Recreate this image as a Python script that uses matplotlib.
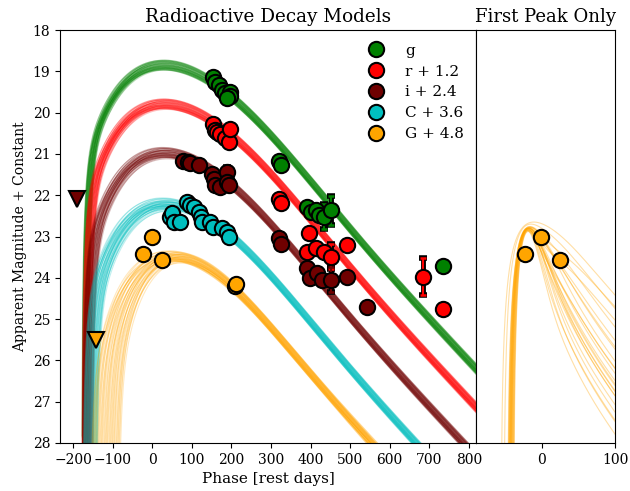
import numpy as np
import matplotlib
matplotlib.use("Agg")
import matplotlib.pyplot as plt
from matplotlib.lines import Line2D

plt.rcParams['font.family'] = ['DejaVu Serif']
plt.rcParams['font.size'] = 10

# ---------------- data ----------------
band_labels = ['g', 'r + 1.2', 'i + 2.4', 'C + 3.6', 'G + 4.8']
band_colors = ['#008000', '#ff0000', '#700000', '#00bfbf', '#ffa500']

g_phase = [153.6, 159.5, 168, 176, 185, 195.7, 197.5, 189, 320, 326, 392, 400, 413, 421, 434, 451, 735]
g_mag = [19.13, 19.25, 19.33, 19.45, 19.53, 19.49, 19.61, 19.65, 21.16, 21.27, 22.28, 22.4, 22.36, 22.48, 22.52, 22.37, 23.71]
g_err = [0, 0, 0, 0, 0, 0, 0, 0, 0, 0, 0, 0, 0, 0, 0.3, 0.35, 0]

r_phase = [153.6, 159.5, 164, 172, 183, 193, 197.5, 320, 326, 396, 392, 413, 434, 451, 491, 685, 735]
r_mag = [20.28, 20.42, 20.46, 20.52, 20.62, 20.72, 20.4, 22.08, 22.2, 22.92, 23.37, 23.29, 23.37, 23.49, 23.2, 23.97, 24.76]
r_err = [0, 0, 0, 0, 0, 0, 0, 0, 0, 0, 0, 0, 0, 0.3, 0, 0.45, 0]

i_phase = [79, 90, 96, 117, 151, 155, 159.5, 172, 189, 189, 193, 320, 326, 392, 398, 417, 430, 451, 491, 542]
i_mag = [21.17, 21.2, 21.23, 21.27, 21.49, 21.61, 21.75, 21.81, 21.43, 21.67, 21.75, 23.04, 23.17, 23.77, 24.01, 23.89, 24.05, 24.05, 23.97, 24.7]
i_err = [0, 0, 0, 0, 0, 0, 0, 0, 0.12, 0, 0, 0, 0, 0, 0, 0, 0, 0.3, 0, 0]

C_phase = [46, 50, 55, 71, 88, 96, 105, 117, 122, 126, 147, 153, 176, 189, 193]
C_mag = [22.52, 22.42, 22.64, 22.66, 22.16, 22.24, 22.28, 22.4, 22.52, 22.66, 22.64, 22.78, 22.8, 22.9, 23.02]
C_err = [0] * 15

G_phase = [-23.6, -1, 24.5, 210, 211]
G_mag = [23.42, 23.02, 23.57, 24.21, 24.15]
G_err = [0, 0, 0, 0, 0]

# upper limits
lim_i_phase, lim_i_mag = [-190.6], [22.08]
lim_G_phase, lim_G_mag = [-142.5], [25.5]

# model draws (radioactive decay fits), per band:
# explosion-time range, diffusion-time range, early-power weight, magnitude at phase 300
model_t0_lo = [-178, -178, -178, -176, -158]
model_t0_hi = [-160, -155, -150, -140, -85]
model_tau_lo = [245, 245, 240, 235, 221]
model_tau_hi = [230, 228, 222, 215, 168]
model_w = [10, 10, 9, 8, 4.6]
model_m300 = [20.55, 21.48, 22.7, 23.95, 25.2]
draw_frac = [0.00, 0.03, 0.05, 0.08, 0.10, 0.13, 0.15, 0.18, 0.21, 0.23, 0.26, 0.28, 0.31, 0.33,
             0.36, 0.38, 0.41, 0.44, 0.46, 0.49, 0.51, 0.54, 0.56, 0.59, 0.62, 0.64, 0.67, 0.69,
             0.72, 0.74, 0.77, 0.79, 0.82, 0.85, 0.87, 0.90, 0.92, 0.95, 0.97, 1.00]
draw_dm = [0.05, -0.08, 0.11, -0.02, 0.07, -0.11, 0.00, 0.09, -0.05, 0.03, -0.09, 0.12, -0.03, 0.06,
           -0.12, 0.02, 0.08, -0.06, 0.10, -0.01, 0.04, -0.10, 0.01, 0.11, -0.07, 0.05, -0.04, 0.09,
           -0.12, 0.03, 0.06, -0.08, 0.00, 0.12, -0.03, 0.07, -0.10, 0.02, -0.05, 0.08]

# first-peak-only model draws (G band)
fp_t0 = [-47, -46.5, -46, -45.5, -45, -44.5, -44, -43.5, -43, -42.5, -42, -41.5,
         -41, -40.5, -40, -39.5, -39, -38.5, -52, -56, -44, -43, -45, -42]
fp_tau = [30, 29, 28, 27.5, 27, 26, 25.5, 25, 24, 23.5, 23, 22,
          21.5, 21, 20, 19.5, 19, 18, 34, 40, 26, 24, 28, 22]
fp_T0 = [60, 42, 95, 33, 72, 48, 135, 38, 56, 27, 85, 50,
         45, 120, 64, 35, 50, 68, 115, 130, 30, 78, 40, 54]
fp_peak = [22.78, 22.8, 22.76, 22.8, 22.78, 22.8, 22.76, 22.82, 22.8, 22.84, 22.78, 22.82,
           22.84, 22.8, 22.84, 22.86, 22.86, 22.88, 22.7, 22.65, 22.82, 22.8, 22.8, 22.84]


def arnett_mag(t, t0, tau, w, T0):
    x = t - t0
    m = np.full(t.shape, np.nan)
    ok = x > 0
    xx = x[ok]
    dep = (w * np.exp(-xx / 8.8) + np.exp(-xx / 111.3)) * (1 - np.exp(-(T0 / xx) ** 2))
    f = 2 * xx / tau ** 2 * np.exp((xx / tau) ** 2) * dep
    I = np.concatenate([[0.0], np.cumsum(0.5 * (f[1:] + f[:-1]) * np.diff(xx))])
    I += 0.5 * f[0] * xx[0]
    L = np.exp(-(xx / tau) ** 2) * I
    m[ok] = -2.5 * np.log10(L)
    return m


fig = plt.figure(figsize=(6.3, 4.91), dpi=100)
gs = fig.add_gridspec(1, 2, width_ratios=[416, 139], wspace=0.0,
                      left=60 / 630, right=615 / 630, top=1 - 30 / 491, bottom=1 - 443 / 491)
ax = fig.add_subplot(gs[0])
ax2 = fig.add_subplot(gs[1], sharey=ax)

t = np.arange(-240, 830, 0.5)
i300 = np.argmin(np.abs(t - 300))
for b in range(5):
    for fr, dm in zip(draw_frac, draw_dm):
        t0 = model_t0_lo[b] + fr * (model_t0_hi[b] - model_t0_lo[b])
        tau = model_tau_lo[b] + fr * (model_tau_hi[b] - model_tau_lo[b])
        m = arnett_mag(t, t0, tau, model_w[b], 1e6)
        m = m - m[i300] + model_m300[b] + dm
        ax.plot(t, m, color=band_colors[b], alpha=0.25, lw=0.8, zorder=1)

tr = np.arange(-100, 130, 0.25)
for t0, tau, T0, pk in zip(fp_t0, fp_tau, fp_T0, fp_peak):
    m = arnett_mag(tr, t0, tau, 4.75, T0)
    m = m - np.nanmin(m) + pk
    ax2.plot(tr, m, color=band_colors[4], alpha=0.35, lw=0.8, zorder=1)


def draw_points(a, ph, mg, er, col):
    ph = np.asarray(ph, float); mg = np.asarray(mg, float); er = np.asarray(er, float)
    sel = er > 0
    if sel.any():
        a.errorbar(ph[sel], mg[sel], yerr=er[sel], fmt='none', ecolor='k',
                   elinewidth=3.5, capsize=3, capthick=4, zorder=3)
        a.errorbar(ph[sel], mg[sel], yerr=er[sel], fmt='none', ecolor=col,
                   elinewidth=1.5, capsize=2.3, capthick=1.8, zorder=3.1)
    a.plot(ph, mg, 'o', ms=11, mfc=col, mec='k', mew=1.5, ls='none', zorder=4)


all_ph = [g_phase, r_phase, i_phase, C_phase, G_phase]
all_mg = [g_mag, r_mag, i_mag, C_mag, G_mag]
all_er = [g_err, r_err, i_err, C_err, G_err]
for b in range(5):
    draw_points(ax, all_ph[b], all_mg[b], all_er[b], band_colors[b])
draw_points(ax2, G_phase, G_mag, G_err, band_colors[4])

ax.plot(lim_i_phase, lim_i_mag, 'v', ms=12, mfc=band_colors[2], mec='k', mew=1.5, zorder=4)
ax.plot(lim_G_phase, lim_G_mag, 'v', ms=12, mfc=band_colors[4], mec='k', mew=1.5, zorder=4)

ax.set_xlim(-233, 818)
ax.set_ylim(28, 18)
ax.set_xticks([-200, -100, 0, 100, 200, 300, 400, 500, 600, 700, 800])
ax.set_yticks([18, 19, 20, 21, 22, 23, 24, 25, 26, 27, 28])
ax2.set_xlim(-90, 100)
ax2.set_xticks([0, 100])
ax2.tick_params(axis='y', left=False, labelleft=False)

ax.set_title('Radioactive Decay Models', fontsize=13.2)
ax2.set_title('First Peak Only', fontsize=13)
ax.set_xlabel('Phase [rest days]', fontsize=11)
ax.set_ylabel('Apparent Magnitude + Constant', fontsize=10)

handles = [Line2D([], [], marker='o', ls='none', ms=11, mfc=c, mec='k', mew=1.5)
           for c in band_colors]
ax.legend(handles, band_labels, loc='upper left', bbox_to_anchor=(0.69, 1.0),
          frameon=False, fontsize=11, handletextpad=0.9, labelspacing=0.45)

fig.savefig('out.png', dpi=100)
